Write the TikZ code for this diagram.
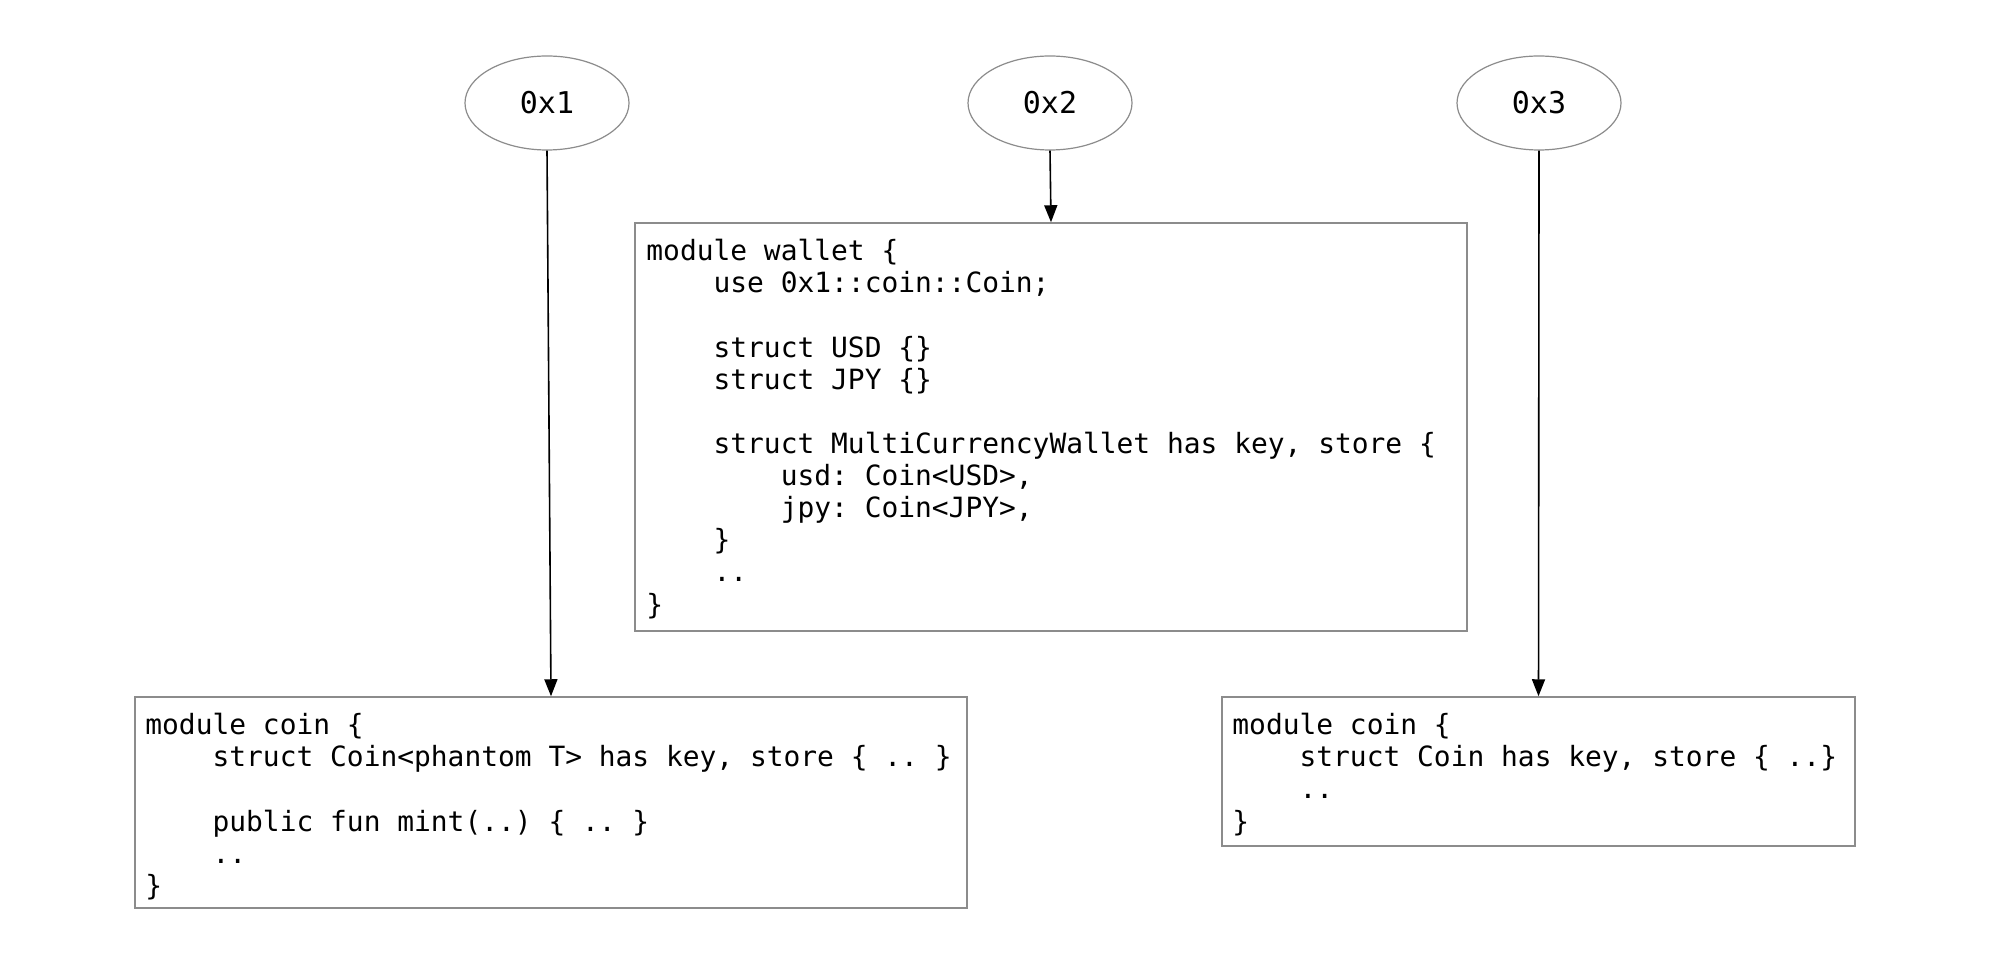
\documentclass[tikz,border=0pt]{standalone}
\usepackage{fontspec}
\setmonofont{DejaVu Sans Mono}
\usetikzlibrary{shapes.geometric,arrows.meta,fit}
\newcommand{\codefnt}{\ttfamily\fontsize{13.95}{16.06}\selectfont}
\newcommand{\ind}{\phantom{0000}}
\tikzset{
  addr/.style={ellipse, draw=black!45, line width=0.6pt, minimum width=82pt, minimum height=47pt, inner sep=0pt, font=\ttfamily\fontsize{15}{18}\selectfont},
  modbox/.style={draw=black!45, line width=0.75pt, inner sep=0pt, rectangle},
  code/.style={anchor=north west, align=left, inner sep=0pt, font=\codefnt},
  link/.style={draw=black, line width=0.8pt, -{Triangle[length=8.5pt,width=6.5pt]}}
}
\begin{document}
\begin{tikzpicture}[x=0.5pt,y=-0.5pt]
\useasboundingbox[fill=white] (0,0) rectangle (2000,967);
% address ellipses
\node[addr] (a1) at (547,103) {0x1};
\node[addr] (a2) at (1050,103) {0x2};
\node[addr] (a3) at (1539,103) {0x3};
% module boxes
\node[modbox, fit={(635,223) (1467,631)}] (wallet) {};
\node[modbox, fit={(135,697) (967,908)}] (coin1) {};
\node[modbox, fit={(1222,697) (1855,846)}] (coin3) {};
% code text
\node[code] (wallettxt) at (646,239) {module wallet \{\\
\ind use 0x1::coin::Coin;\\
\mbox{}\\
\ind struct USD \{\}\\
\ind struct JPY \{\}\\
\mbox{}\\
\ind struct MultiCurrencyWallet has key, store \{\\
\ind\ind usd: Coin<USD>,\\
\ind\ind jpy: Coin<JPY>,\\
\ind \}\\
\ind ..\\
\}};
\node[code] (coin1txt) at (145,713) {module coin \{\\
\ind struct Coin<phantom T> has key, store \{ .. \}\\
\mbox{}\\
\ind public fun mint(..) \{ .. \}\\
\ind ..\\
\}};
\node[code] (coin3txt) at (1232,713) {module coin \{\\
\ind struct Coin has key, store \{ ..\}\\
\ind ..\\
\}};
% connectors
\draw[link] (a1.south) -- (coin1.north);
\draw[link] (a2.south) -- (wallet.north);
\draw[link] (a3.south) -- (coin3.north);
\end{tikzpicture}
\end{document}
